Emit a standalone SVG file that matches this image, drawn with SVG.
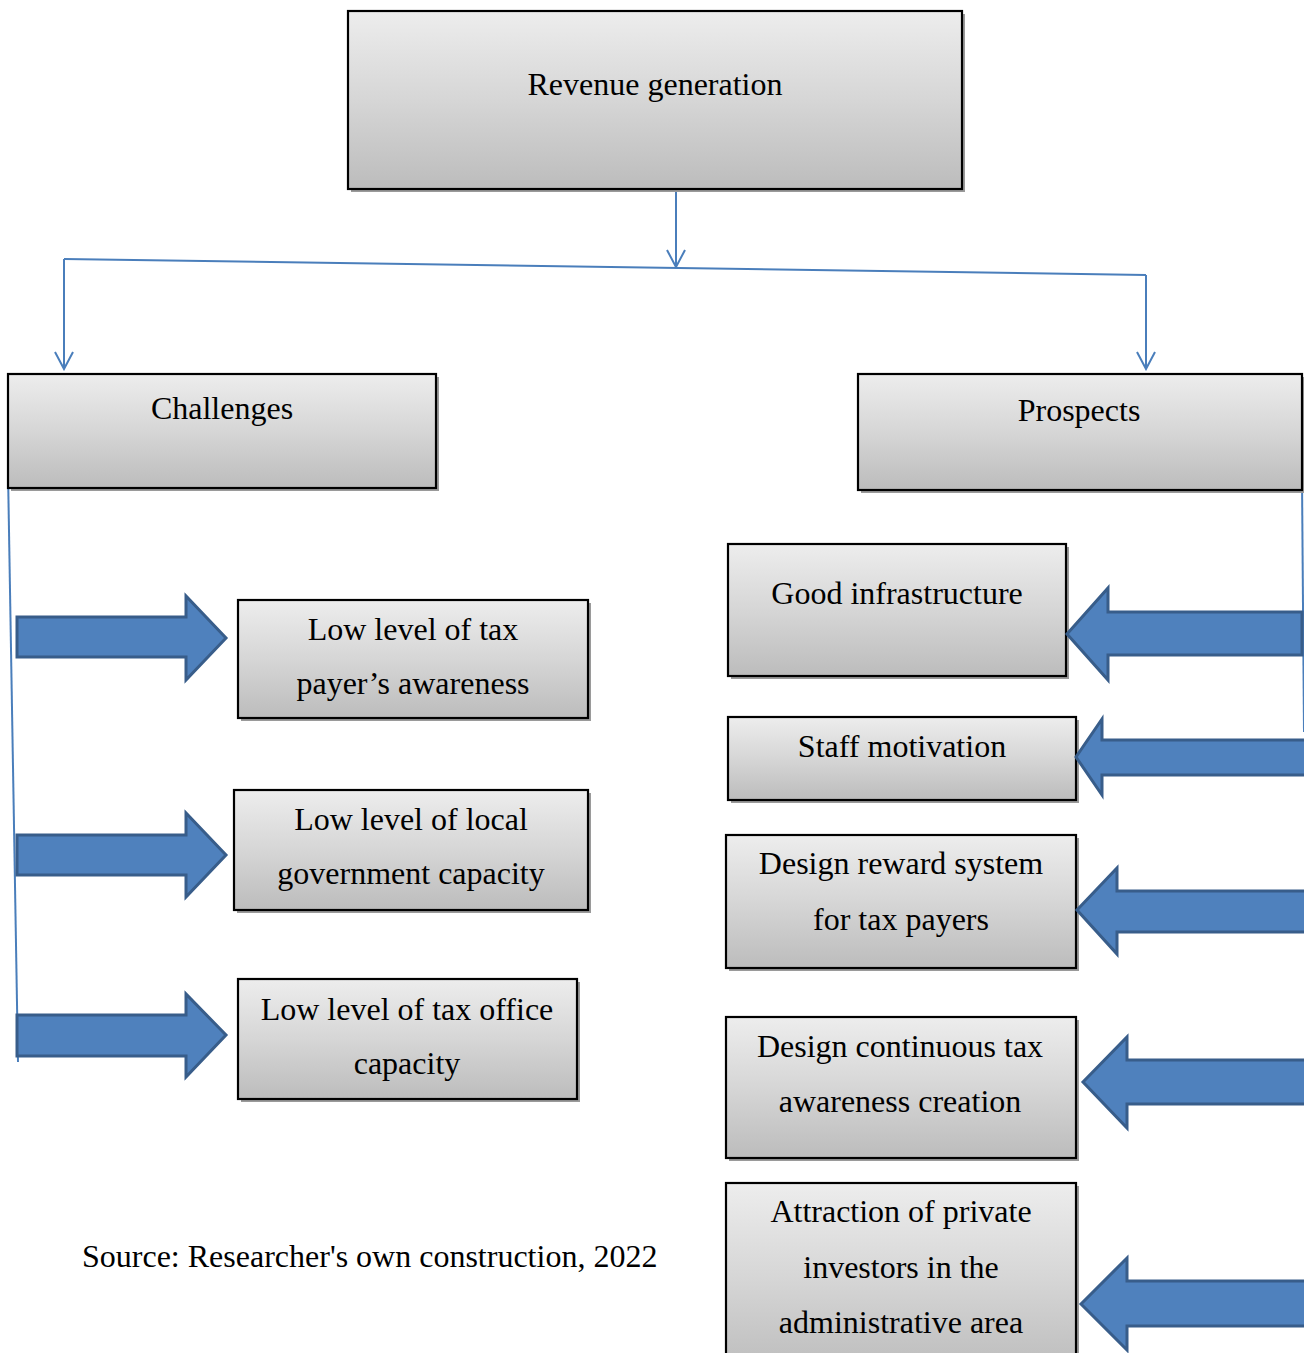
<svg xmlns="http://www.w3.org/2000/svg" width="1304" height="1353" viewBox="0 0 1304 1353">
<defs>
<linearGradient id="g" x1="0" y1="0" x2="0" y2="1">
<stop offset="0" stop-color="#EDEDED"/>
<stop offset="0.5" stop-color="#D6D6D6"/>
<stop offset="1" stop-color="#BCBCBC"/>
</linearGradient>
<marker id="v" markerWidth="20" markerHeight="20" refX="18" refY="10" orient="auto" markerUnits="userSpaceOnUse" viewBox="0 0 20 20">
<path d="M1,1 L18,10 L1,19" fill="none" stroke="#4A7EBB" stroke-width="2"/>
</marker>
<style>
.box{fill:url(#g);stroke:#000;stroke-width:2.2}
.sh{fill:#9A9A9A}
.t{font-family:"Liberation Serif","Times New Roman",serif;font-size:32px;fill:#000;text-anchor:middle}
.con{fill:none;stroke:#4A7EBB;stroke-width:2}
.ar{fill:#4F81BD;stroke:#385D8A;stroke-width:3;stroke-linejoin:miter}
</style>
</defs>
<rect width="1304" height="1353" fill="#fff"/>

<g id="connectors">
<line class="con" x1="676" y1="189" x2="676" y2="267" marker-end="url(#v)"/>
<line class="con" x1="64" y1="259" x2="1146" y2="275"/>
<line class="con" x1="64" y1="259" x2="64" y2="369" marker-end="url(#v)"/>
<line class="con" x1="1146" y1="275" x2="1146" y2="369" marker-end="url(#v)"/>
<line class="con" x1="8" y1="472" x2="18" y2="1062"/>
<line class="con" x1="1302" y1="480" x2="1304" y2="732"/>
</g>

<g id="revenue">
<rect class="sh" x="351" y="14" width="614" height="178"/>
<rect class="box" x="348" y="11" width="614" height="178"/>
<text class="t" x="655" y="95">Revenue generation</text>
</g>

<g id="challenges">
<rect class="sh" x="11" y="377" width="428" height="114"/>
<rect class="box" x="8" y="374" width="428" height="114"/>
<text class="t" x="222" y="419">Challenges</text>
</g>

<g id="prospects">
<rect class="sh" x="861" y="377" width="444" height="116"/>
<rect class="box" x="858" y="374" width="444" height="116"/>
<text class="t" x="1079" y="421">Prospects</text>
</g>

<g id="c1">
<rect class="sh" x="241" y="603" width="350" height="118"/>
<rect class="box" x="238" y="600" width="350" height="118"/>
<text class="t" x="413" y="640">Low level of tax</text>
<text class="t" x="413" y="694">payer’s awareness</text>
</g>

<g id="c2">
<rect class="sh" x="237" y="793" width="354" height="120"/>
<rect class="box" x="234" y="790" width="354" height="120"/>
<text class="t" x="411" y="830">Low level of local</text>
<text class="t" x="411" y="884">government capacity</text>
</g>

<g id="c3">
<rect class="sh" x="241" y="982" width="339" height="120"/>
<rect class="box" x="238" y="979" width="339" height="120"/>
<text class="t" x="407" y="1020">Low level of tax office</text>
<text class="t" x="407" y="1074">capacity</text>
</g>

<g id="p1">
<rect class="sh" x="731" y="547" width="338" height="132"/>
<rect class="box" x="728" y="544" width="338" height="132"/>
<text class="t" x="897" y="604">Good infrastructure</text>
</g>

<g id="p2">
<rect class="sh" x="731" y="720" width="348" height="83"/>
<rect class="box" x="728" y="717" width="348" height="83"/>
<text class="t" x="902" y="757">Staff motivation</text>
</g>

<g id="p3">
<rect class="sh" x="729" y="838" width="350" height="133"/>
<rect class="box" x="726" y="835" width="350" height="133"/>
<text class="t" x="901" y="874">Design reward system</text>
<text class="t" x="901" y="930">for tax payers</text>
</g>

<g id="p4">
<rect class="sh" x="729" y="1020" width="350" height="141"/>
<rect class="box" x="726" y="1017" width="350" height="141"/>
<text class="t" x="900" y="1057">Design continuous tax</text>
<text class="t" x="900" y="1112">awareness creation</text>
</g>

<g id="p5">
<rect class="sh" x="729" y="1186" width="350" height="190"/>
<rect class="box" x="726" y="1183" width="350" height="190"/>
<text class="t" x="901" y="1222">Attraction of private</text>
<text class="t" x="901" y="1278">investors in the</text>
<text class="t" x="901" y="1333">administrative area</text>
</g>

<g id="arrows-left">
<polygon class="ar" points="17,617 186,617 186,596 226,638 186,680 186,657 17,657"/>
<polygon class="ar" points="17,835 186,835 186,813 226,855 186,897 186,875 17,875"/>
<polygon class="ar" points="17,1015 186,1015 186,994 226,1035 186,1077 186,1056 17,1056"/>
</g>

<g id="arrows-right">
<polygon class="ar" points="1302,612 1108,612 1108,588 1067,634 1108,680 1108,655 1302,655"/>
<polygon class="ar" points="1310,740 1102,740 1102,719 1076,757 1102,795 1102,775 1310,775"/>
<polygon class="ar" points="1310,891 1117,891 1117,868 1077,910 1117,954 1117,932 1310,932"/>
<polygon class="ar" points="1310,1060 1127,1060 1127,1037 1083,1082 1127,1128 1127,1104 1310,1104"/>
<polygon class="ar" points="1310,1281 1127,1281 1127,1258 1081,1304 1127,1350 1127,1326 1310,1326"/>
</g>

<g id="source">
<text x="82" y="1267" style="font-family:'Liberation Serif','Times New Roman',serif;font-size:32px;fill:#000">Source: Researcher's own construction, 2022</text>
</g>
</svg>
